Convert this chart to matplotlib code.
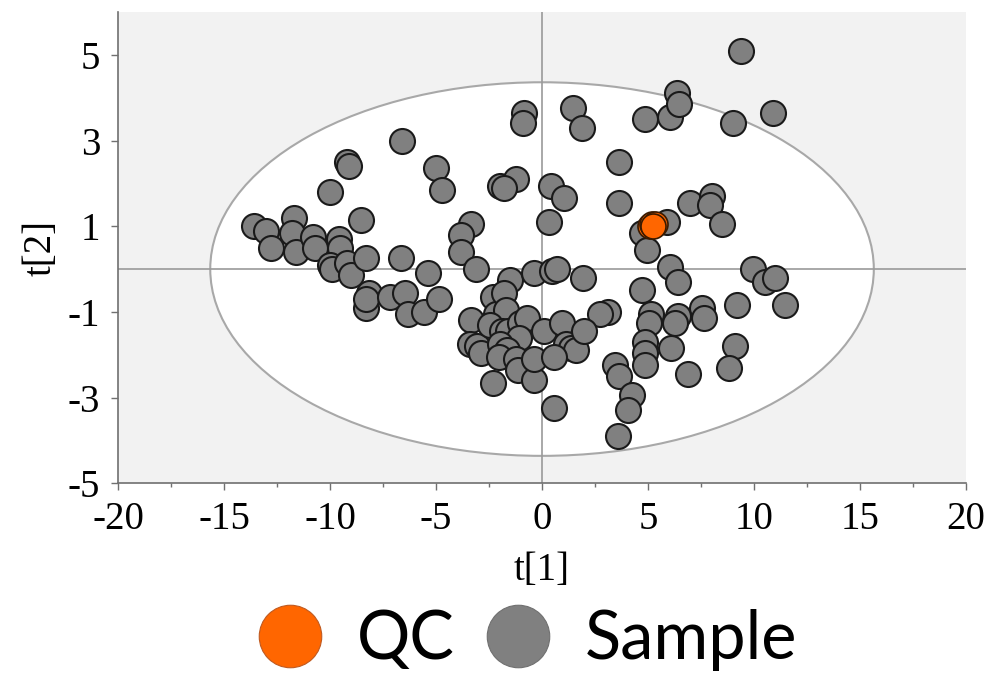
import matplotlib
matplotlib.use("Agg")
import matplotlib.pyplot as plt
from matplotlib.patches import Ellipse
from matplotlib.lines import Line2D
import numpy as np

# scores
sample_t1 = [-6.6, -9.2, -9.1, -5.0, -4.7, -10.0, -8.55, -13.6, -13.0, -12.8,
             -11.7, -11.8, -11.6, -10.8, -10.7, -9.6, -9.55, -10.0, -9.9, -9.2,
             -9.0, -8.3, -6.65, -5.4, -8.15, -8.3, -8.3, -7.15, -6.45, -6.3,
             -5.55, -4.85, -3.35, -3.35, -3.8, -3.8, -3.1, -2.0, -2.3, -2.15,
             -3.4, -3.05, -0.85, -0.9, 1.45, 1.9, 4.85, 6.05, 6.35, 6.45,
             3.65, -1.25, -1.8, 0.4, 1.05, 0.35, 3.65, 7.0, -1.5, -0.4,
             0.45, 0.7, 1.95, 5.9, 4.7, 4.95, 6.05, 6.4, 9.4, 9.0,
             10.9, 8.0, 7.9, 8.5, 9.95, 10.5, 11.0, 4.7, 11.45, 9.2,
             7.55, 7.65, 3.1, 2.75, 5.15, 5.05, 6.4, 6.25, 4.85, 4.85,
             4.85, 6.1, 9.1, 8.8, 6.9, 3.45, 3.65, 4.25, 4.05, 3.6,
             -1.8, -1.7, -2.45, -1.9, -1.6, -1.05, -0.7, -1.1, 0.1, 0.95,
             1.15, 1.35, 1.6, 2.0, -2.9, -2.0, -1.65, -2.05, -1.25, -2.3,
             -1.15, -0.4, -0.4, 0.55, 0.55]
sample_t2 = [3.0, 2.5, 2.4, 2.35, 1.85, 1.8, 1.15, 1.0, 0.9, 0.5,
             1.2, 0.85, 0.4, 0.75, 0.5, 0.7, 0.5, 0.1, 0.0, 0.15,
             -0.15, 0.25, 0.25, -0.1, -0.55, -0.9, -0.7, -0.65, -0.55, -1.05,
             -1.0, -0.7, -1.2, 1.05, 0.8, 0.4, 0.0, 1.95, -0.65, -1.05,
             -1.75, -1.8, 3.65, 3.4, 3.75, 3.3, 3.5, 3.55, 4.1, 3.85,
             2.5, 2.1, 1.9, 1.95, 1.65, 1.1, 1.55, 1.55, -0.25, -0.1,
             -0.05, 0.0, -0.2, 1.1, 0.85, 0.45, 0.05, -0.3, 5.1, 3.4,
             3.65, 1.7, 1.5, 1.05, 0.0, -0.3, -0.2, -0.5, -0.85, -0.85,
             -0.9, -1.15, -1.0, -1.05, -1.05, -1.25, -1.1, -1.25, -1.7, -1.95,
             -2.25, -1.85, -1.8, -2.3, -2.45, -2.25, -2.5, -2.95, -3.3, -3.9,
             -0.55, -0.95, -1.3, -1.45, -1.45, -1.25, -1.15, -1.6, -1.45, -1.25,
             -1.75, -1.85, -1.9, -1.45, -1.95, -1.75, -1.9, -2.05, -2.1, -2.65,
             -2.35, -2.6, -2.1, -2.05, -3.25]
qc_t1 = [5.1, 5.2, 5.35, 5.25]
qc_t2 = [1.0, 1.05, 1.05, 1.0]

ellipse_w = 15.65
ellipse_h = 4.36

plt.rcParams['font.family'] = ['Liberation Serif', 'DejaVu Serif']
plt.rcParams['axes.unicode_minus'] = False

fig = plt.figure(figsize=(9.91, 6.78), dpi=100)
ax = fig.add_axes([0.1191, 0.2872, 0.8557, 0.6951])
ax.set_facecolor('#f2f2f2')

ax.add_patch(Ellipse((0, 0), 2 * ellipse_w, 2 * ellipse_h, facecolor='white',
                     edgecolor='#a8a8a8', linewidth=1.5, zorder=1))
ax.axhline(0, color='#9a9a9a', linewidth=1.2, zorder=2)
ax.axvline(0, color='#9a9a9a', linewidth=1.2, zorder=2)

ax.scatter(sample_t1, sample_t2, s=324, color='#808080', edgecolor='#1a1a1a',
           linewidth=1.5, zorder=3)
ax.scatter(qc_t1, qc_t2, s=324, color='#ff6600', edgecolor='#3a1a00',
           linewidth=1.2, zorder=4)

ax.set_xlim(-20, 20)
ax.set_ylim(-5, 6)
ax.set_xticks(np.arange(-20, 21, 5))
ax.set_xticks(np.arange(-17.5, 20, 5), minor=True)
ax.set_yticks([-5, -3, -1, 1, 3, 5])
ax.tick_params(axis='both', which='major', direction='out', length=5,
               width=1, color='#707070', labelsize=28, pad=8)
ax.tick_params(axis='x', which='major', pad=8)
ax.tick_params(axis='x', which='minor', direction='out', length=3,
               width=1, color='#707070')
for side in ['top', 'right']:
    ax.spines[side].set_visible(False)
for side in ['left', 'bottom']:
    ax.spines[side].set_color('#707070')
    ax.spines[side].set_linewidth(1.2)

ax.set_xlabel('t[1]', fontsize=28, labelpad=10)
ax.set_ylabel('t[2]', fontsize=28, labelpad=6)

handles = [Line2D([], [], linestyle='none', marker='o', markersize=45,
                  markerfacecolor='#ff6600', markeredgecolor='#c05a20',
                  markeredgewidth=0.8, label='QC'),
           Line2D([], [], linestyle='none', marker='o', markersize=45,
                  markerfacecolor='#808080', markeredgecolor='#707070',
                  markeredgewidth=0.8, label='Sample')]
fig.legend(handles=handles, loc='center', bbox_to_anchor=(0.53, 0.056),
           ncol=2, frameon=False, handlelength=1.1, handletextpad=0.45,
           columnspacing=0.4, prop={'family': 'Lato', 'size': 48})

fig.savefig('out.png', dpi=100)
